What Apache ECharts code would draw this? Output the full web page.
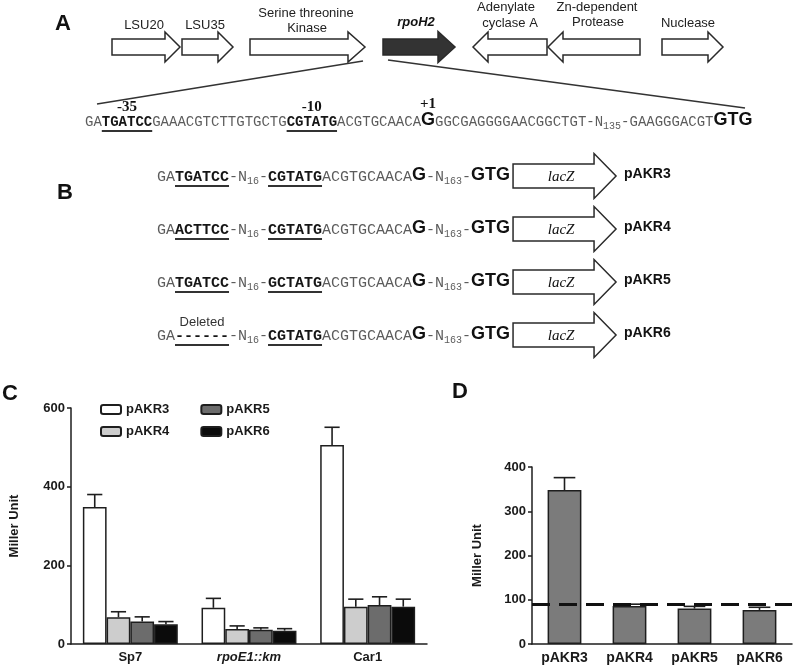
<!DOCTYPE html>
<html>
<head>
<meta charset="utf-8">
<title>rpoH2 promoter - lacZ fusions</title>
<script src="https://cdn.jsdelivr.net/npm/echarts@6/dist/echarts.min.js"></script>
<style>
  html, body { margin: 0; padding: 0; background: #fff; }
  #main { width: 800px; height: 669px; }
</style>
</head>
<body>
<div id="main"></div>
<script>
// panel C values (Miller units), one array per fusion, order = strains
const strains = ['Sp7', 'rpoE1::km', 'Car1'];
const fusions = ['pAKR3', 'pAKR4', 'pAKR5', 'pAKR6'];
const pAKR3Mean = [348, 92, 506];
const pAKR3Err = [32, 24, 45];
const pAKR4Mean = [68, 38, 95];
const pAKR4Err = [14, 8, 19];
const pAKR5Mean = [57, 36, 99];
const pAKR5Err = [12, 5, 21];
const pAKR6Mean = [50, 34, 95];
const pAKR6Err = [7, 5, 19];
const fusionColors = ['#ffffff', '#cdcdcd', '#6c6c6c', '#0b0b0b'];

// panel D values
const dFusions = ['pAKR3', 'pAKR4', 'pAKR5', 'pAKR6'];
const dMean = [348, 86, 80, 77];
const dErr = [28, 4, 5, 6];
const dBaseline = 90;

const cMeans = [pAKR3Mean, pAKR4Mean, pAKR5Mean, pAKR6Mean];
const cErrs = [pAKR3Err, pAKR4Err, pAKR5Err, pAKR6Err];

const INK = '#1e1e1e';
const SANS = '"Liberation Sans", Arial, sans-serif';
const MONO = '"Liberation Mono", "Courier New", monospace';
const SERIF = '"Liberation Serif", "Times New Roman", serif';

// ---------- diagram (panels A and B) ----------
const ctx = document.createElement('canvas').getContext('2d');
const gfx = [];

function txt(x, y, text, font, fill, align) {
    gfx.push({
        type: 'text', x: x, y: y, silent: true,
        style: { text: text, font: font, fill: fill || '#222', textAlign: align || 'center', textVerticalAlign: 'middle' }
    });
}

function arrow(x0, x1, cy, dir, head, bh, hh, fill) {
    let pts;
    if (dir > 0) {
        const hx = x1 - head;
        pts = [[x0, cy - bh], [hx, cy - bh], [hx, cy - hh], [x1, cy], [hx, cy + hh], [hx, cy + bh], [x0, cy + bh]];
    } else {
        const hx = x0 + head;
        pts = [[x1, cy - bh], [hx, cy - bh], [hx, cy - hh], [x0, cy], [hx, cy + hh], [hx, cy + bh], [x1, cy + bh]];
    }
    gfx.push({
        type: 'polygon', silent: true, shape: { points: pts },
        style: { fill: fill || '#fff', stroke: '#2a2a2a', lineWidth: 1.5 }
    });
}

function line(x1, y1, x2, y2, w) {
    gfx.push({ type: 'line', silent: true, shape: { x1: x1, y1: y1, x2: x2, y2: y2 }, style: { stroke: '#333', lineWidth: w || 1.5 } });
}

// segment kinds: n normal, b bold+underline, s subscript, g big bold letter
function sequence(segs, x0, y, size) {
    let x = x0;
    const marks = {};
    segs.forEach(function (s) {
        const kind = s[0], t = s[1], tag = s[2];
        let font, fill = '#5c5c5c', dy = 0;
        if (kind === 'n') font = size + 'px ' + MONO;
        if (kind === 'b') { font = 'bold ' + size + 'px ' + MONO; fill = '#151515'; }
        if (kind === 's') { font = Math.round(size * 0.68) + 'px ' + MONO; dy = size * 0.3; }
        if (kind === 'g') { font = 'bold 18px ' + SANS; fill = '#111'; dy = -1.5; }
        ctx.font = font;
        const w = ctx.measureText(t).width;
        txt(x, y + dy, t, font, fill, 'left');
        if (kind === 'b') line(x, y + 9, x + w, y + 9, 2.2);
        if (tag) marks[tag] = x + w / 2;
        x += w;
    });
    marks.end = x;
    return marks;
}

// panel letters
txt(63, 24, 'A', 'bold 22px ' + SANS, '#111');
txt(65, 193, 'B', 'bold 22px ' + SANS, '#111');
txt(10, 394, 'C', 'bold 22px ' + SANS, '#111');
txt(460, 392, 'D', 'bold 22px ' + SANS, '#111');

// gene neighbourhood
const geneFont = '13px ' + SANS;
arrow(112, 180, 47, 1, 15, 8, 15);
arrow(182, 233, 47, 1, 15, 8, 15);
arrow(250, 365, 47, 1, 17, 8, 15);
arrow(383, 455, 47, 1, 17, 8, 15.5, '#333');
arrow(473, 547, 47, -1, 15, 8, 15);
arrow(548, 640, 47, -1, 15, 8, 15);
arrow(662, 723, 47, 1, 15, 8, 15);
txt(144, 25, 'LSU20', geneFont);
txt(205, 25, 'LSU35', geneFont);
txt(306, 13, 'Serine threonine', geneFont);
txt(307, 28, 'Kinase', geneFont);
txt(416, 22, 'rpoH2', 'italic bold 13px ' + SANS, '#111');
txt(506, 7, 'Adenylate', geneFont);
txt(510, 23, 'cyclase A', geneFont);
txt(597, 7, 'Zn-dependent', geneFont);
txt(598, 22, 'Protease', geneFont);
txt(688, 23, 'Nuclease', geneFont);
line(363, 61, 97, 104);
line(388, 60, 745, 108);

// promoter sequence
const mA = sequence([
    ['n', 'GA'], ['b', 'TGATCC', 'm35'], ['n', 'GAAACGTCTTGTGCTG'], ['b', 'CGTATG', 'm10'],
    ['n', 'ACGTGCAACA'], ['g', 'G', 'tss'], ['n', 'GGCGAGGGGAACGGCTGT-N'], ['s', '135'],
    ['n', '-GAAGGGACGT'], ['g', 'GTG']
], 85, 122, 14);
const markFont = 'bold 15px ' + SERIF;
txt(mA.m35, 107, '-35', markFont, '#111');
txt(mA.m10, 107, '-10', markFont, '#111');
txt(mA.tss, 104, '+1', markFont, '#111');

// panel B constructs
const constructs = [
    { name: 'pAKR3', m35: 'TGATCC', m10: 'CGTATG' },
    { name: 'pAKR4', m35: 'ACTTCC', m10: 'CGTATG' },
    { name: 'pAKR5', m35: 'TGATCC', m10: 'GCTATG' },
    { name: 'pAKR6', m35: '------', m10: 'CGTATG' }
];
constructs.forEach(function (c, i) {
    const y = 177 + i * 53;
    const m = sequence([
        ['n', 'GA'], ['b', c.m35, 'm35'], ['n', '-N'], ['s', '16'], ['n', '-'], ['b', c.m10],
        ['n', 'ACGTGCAACA'], ['g', 'G'], ['n', '-N'], ['s', '163'], ['n', '-'], ['g', 'GTG']
    ], 157, y, 15);
    const ax = m.end + 3;
    arrow(ax, ax + 103, y - 1, 1, 22, 12, 22.5);
    txt(ax + 48, y, 'lacZ', 'italic 15px ' + SERIF, '#111');
    txt(ax + 111, y - 3, c.name, 'bold 14px ' + SANS, '#111', 'left');
    if (c.m35 === '------') txt(m.m35, y - 14, 'Deleted', '13px ' + SANS, '#333');
});

// ---------- charts (panels C and D) ----------
const axisLabelStyle = { color: '#1a1a1a', fontWeight: 'bold', fontFamily: SANS };

function errorSeries(name, means, errs, xi, idx, count, gapRatio) {
    return {
        name: name, type: 'custom', xAxisIndex: xi, yAxisIndex: xi, z: 5, silent: true,
        data: means.map(function (v, k) { return [k, v, errs[k]]; }),
        encode: { x: 0, y: 1 },
        renderItem: function (params, api) {
            const k = api.value(0), v = api.value(1), e = api.value(2);
            const catW = api.size([1, 0])[0];
            const bw = catW * (1 - gapRatio) / count;
            const off = (idx - (count - 1) / 2) * bw;
            const base = api.coord([k, v]);
            const top = api.coord([k, v + e]);
            const x = base[0] + off;
            const half = bw * 0.32;
            const st = { stroke: INK, lineWidth: 1.6 };
            return {
                type: 'group', children: [
                    { type: 'line', shape: { x1: x, y1: base[1], x2: x, y2: top[1] }, style: st },
                    { type: 'line', shape: { x1: x - half, y1: top[1], x2: x + half, y2: top[1] }, style: st }
                ]
            };
        }
    };
}

const series = [];
fusions.forEach(function (f, i) {
    series.push({
        name: f, type: 'bar', xAxisIndex: 0, yAxisIndex: 0,
        data: cMeans[i], barGap: '0%', barCategoryGap: '20%',
        itemStyle: { color: fusionColors[i], borderColor: INK, borderWidth: 1.5 },
        emphasis: { disabled: true }
    });
});
fusions.forEach(function (f, i) {
    series.push(errorSeries(f + ' SD', cMeans[i], cErrs[i], 0, i, 4, 0.2));
});
series.push({
    name: 'D', type: 'bar', xAxisIndex: 1, yAxisIndex: 1,
    data: dMean, barCategoryGap: '48%',
    itemStyle: { color: '#7b7b7b', borderColor: INK, borderWidth: 1.5 },
    emphasis: { disabled: true },
    markLine: {
        silent: true, symbol: 'none', z: 6,
        label: { show: false },
        lineStyle: { color: '#111', width: 3, type: [18, 9] },
        data: [{ yAxis: dBaseline }]
    }
});
series.push(errorSeries('D SD', dMean, dErr, 1, 0, 1, 0.48));

const chart = echarts.init(document.getElementById('main'));
chart.setOption({
    animation: false,
    graphic: gfx,
    legend: [
        {
            data: ['pAKR3', 'pAKR5'], left: 100, top: 403, padding: 0,
            itemWidth: 20, itemHeight: 9, itemGap: 31, selectedMode: false,
            textStyle: { fontWeight: 'bold', fontSize: 13, fontFamily: SANS, color: '#1a1a1a' }
        },
        {
            data: ['pAKR4', 'pAKR6'], left: 100, top: 425, padding: 0,
            itemWidth: 20, itemHeight: 9, itemGap: 31, selectedMode: false,
            textStyle: { fontWeight: 'bold', fontSize: 13, fontFamily: SANS, color: '#1a1a1a' }
        }
    ],
    grid: [
        { left: 71, right: 373, top: 408, bottom: 25 },
        { left: 532, right: 8, top: 467, bottom: 25 }
    ],
    xAxis: [
        {
            gridIndex: 0, type: 'category', data: strains,
            axisLine: { lineStyle: { color: INK, width: 1.5 } },
            axisTick: { show: false },
            axisLabel: Object.assign({}, axisLabelStyle, {
                fontSize: 13, margin: 7,
                formatter: function (v) { return v === 'rpoE1::km' ? '{i|' + v + '}' : v; },
                rich: { i: { fontStyle: 'italic', fontWeight: 'bold', fontSize: 13, fontFamily: SANS, color: '#1a1a1a' } }
            })
        },
        {
            gridIndex: 1, type: 'category', data: dFusions,
            axisLine: { lineStyle: { color: INK, width: 1.5 } },
            axisTick: { show: false },
            axisLabel: Object.assign({}, axisLabelStyle, { fontSize: 14, margin: 7 })
        }
    ],
    yAxis: [
        {
            gridIndex: 0, type: 'value', min: 0, max: 600, interval: 200,
            name: 'Miller Unit', nameLocation: 'middle', nameGap: 50, nameRotate: 90,
            nameTextStyle: { fontWeight: 'bold', fontSize: 13, fontFamily: SANS, color: '#1a1a1a' },
            axisLine: { show: true, lineStyle: { color: INK, width: 1.5 } },
            axisTick: { show: true, length: 4, lineStyle: { color: INK, width: 1.5 } },
            axisLabel: Object.assign({}, axisLabelStyle, { fontSize: 13, margin: 6 }),
            splitLine: { show: false }
        },
        {
            gridIndex: 1, type: 'value', min: 0, max: 400, interval: 100,
            name: 'Miller Unit', nameLocation: 'middle', nameGap: 48, nameRotate: 90,
            nameTextStyle: { fontWeight: 'bold', fontSize: 13, fontFamily: SANS, color: '#1a1a1a' },
            axisLine: { show: true, lineStyle: { color: INK, width: 1.5 } },
            axisTick: { show: true, length: 4, lineStyle: { color: INK, width: 1.5 } },
            axisLabel: Object.assign({}, axisLabelStyle, { fontSize: 13, margin: 6 }),
            splitLine: { show: false }
        }
    ],
    series: series
});
</script>
</body>
</html>
